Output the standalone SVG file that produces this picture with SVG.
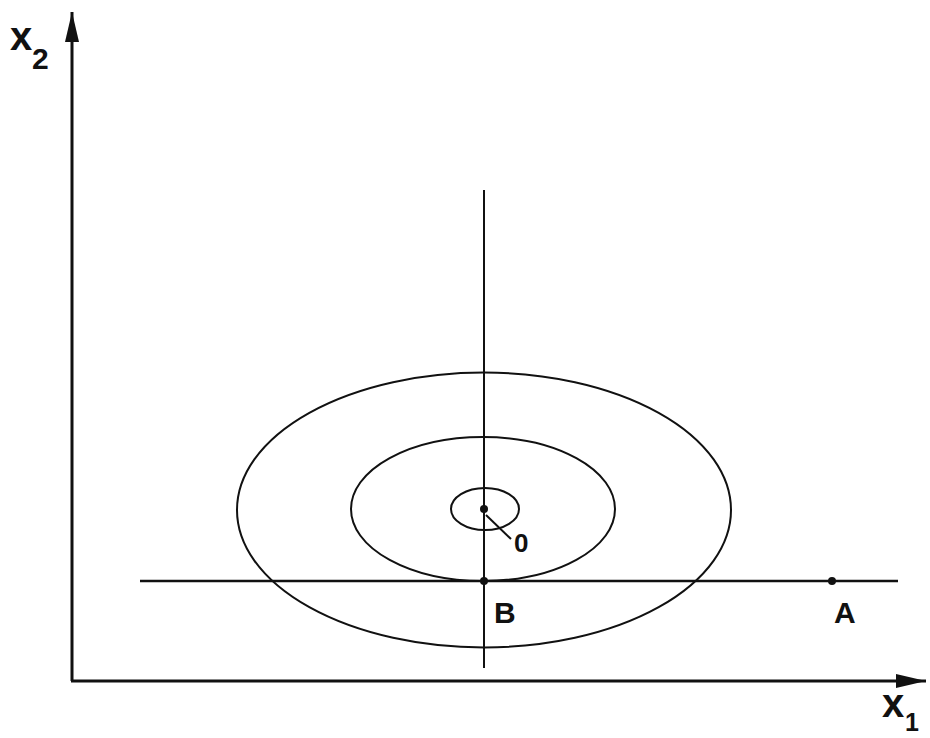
<svg xmlns="http://www.w3.org/2000/svg" width="930" height="738" viewBox="0 0 930 738">
<style>
.ln{stroke:#111;stroke-width:2;fill:none}
.ax{stroke:#111;stroke-width:3;fill:none}
.t{font-family:"Liberation Sans",Arial,sans-serif;fill:#111;font-size:40px;font-weight:bold}
.s{font-family:"Liberation Sans",Arial,sans-serif;fill:#111;font-size:30px;font-weight:bold}
</style>
<defs>
<marker id="ahb" viewBox="0 0 30 14" markerWidth="30" markerHeight="14" refX="30" refY="7" orient="auto" markerUnits="userSpaceOnUse">
<path d="M0,0 L30,7 L0,14 Z" fill="#111"/>
</marker>
</defs>
<g id="connectors">
<line id="axis-x2" class="ax" x1="72" y1="681" x2="72" y2="12" marker-end="url(#ahb)"/>
<line id="axis-x1" class="ax" x1="71" y1="681" x2="926" y2="681" marker-end="url(#ahb)"/>
<line id="vline" class="ln" x1="484" y1="190" x2="484" y2="668"/>
<line id="hline" class="ln" x1="140" y1="581" x2="898" y2="581" style="stroke-width:2.5"/>
<line id="leader" class="ln" x1="486" y1="515" x2="511" y2="539"/>
</g>
<g id="ellipse-outer"><ellipse class="ln" cx="484" cy="510" rx="247" ry="137.5"/></g>
<g id="ellipse-middle"><ellipse class="ln" cx="483" cy="509" rx="132" ry="72"/></g>
<g id="ellipse-inner"><ellipse class="ln" cx="485" cy="509" rx="34" ry="21"/></g>
<g id="point-O"><circle cx="484" cy="509" r="4" fill="#111"/><text class="s" x="514" y="552" style="font-size:26px">0</text></g>
<g id="point-B"><circle cx="484" cy="581" r="4" fill="#111"/><text class="s" x="494" y="623">B</text></g>
<g id="point-A"><circle cx="832" cy="581" r="4" fill="#111"/><text class="s" x="834" y="623">A</text></g>
<g id="label-x2"><text class="t" x="10" y="50">x</text><text class="s" x="32" y="69">2</text></g>
<g id="label-x1"><text class="t" x="882" y="717">x</text><text class="s" x="905" y="731" style="font-size:25px">1</text></g>
</svg>
